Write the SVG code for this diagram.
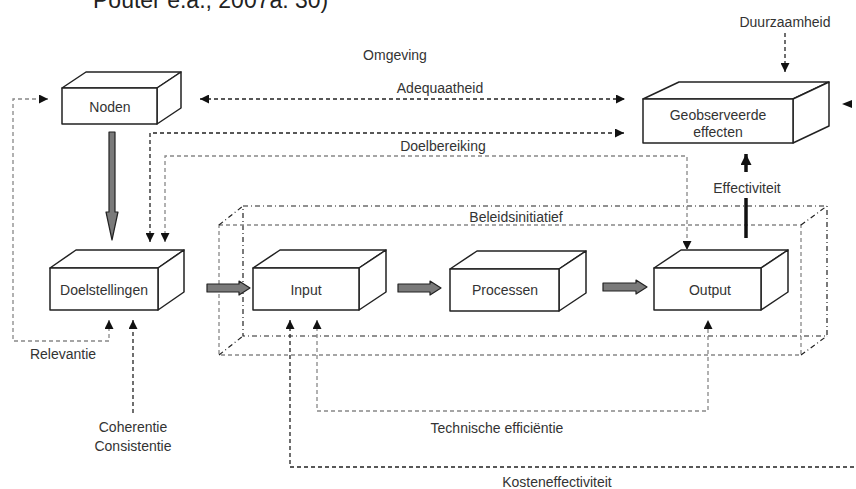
<svg xmlns="http://www.w3.org/2000/svg" width="856" height="489" viewBox="0 0 856 489">
<defs>
<style>
text{font-family:"Liberation Sans",Arial,sans-serif;font-size:14px;fill:#333;}
.c{text-anchor:middle;}
.box path{fill:#fff;stroke:#222;stroke-width:1.5;stroke-linejoin:round;}
.dk{fill:none;stroke:#222;stroke-width:1.3;stroke-dasharray:4 3;}
.lt{fill:none;stroke:#888;stroke-width:1.3;stroke-dasharray:4 3;}
.dd{fill:none;stroke:#222;stroke-width:1.2;stroke-dasharray:5 3 1 3;}
.ga{fill:#7a7a7a;stroke:#222;stroke-width:1.2;stroke-linejoin:round;}
</style>
<marker id="ah" viewBox="0 0 10 10" refX="10" refY="5" markerWidth="9" markerHeight="9" markerUnits="userSpaceOnUse" orient="auto-start-reverse">
<path d="M0,0 L10,5 L0,10 z" fill="#111"/>
</marker>
<marker id="ahb" viewBox="0 0 10 10" refX="10" refY="5" markerWidth="11" markerHeight="11" markerUnits="userSpaceOnUse" orient="auto">
<path d="M0,0 L10,5 L0,10 z" fill="#111"/>
</marker>
</defs>
<rect width="856" height="489" fill="#fff"/>
<text x="93" y="8" style="font-size:23px;fill:#222">Pouter e.a., 2007a: 30)</text>

<!-- Beleidsinitiatief frame -->
<g id="beleidsinitiatief">
<rect x="243" y="206" width="584" height="130" class="dd"/>
<rect x="219" y="225" width="582" height="130" class="lt"/>
<path d="M219,225 L243,206 M801,225 L827,206 M219,355 L243,336 M801,355 L827,336" class="dd"/>
<text x="516" y="222" class="c">Beleidsinitiatief</text>
</g>

<g id="noden" class="box">
<path d="M62,88 L86,72 L181,72 L157,88 Z"/>
<path d="M157,88 L181,72 L181,108 L157,124 Z"/>
<path d="M62,88 H157 V124 H62 Z"/>
<text x="110" y="112" class="c">Noden</text>
</g>

<g id="geobserveerde" class="box">
<path d="M643,99 L679,82 L829,82 L793,99 Z"/>
<path d="M793,99 L829,82 L829,126 L793,143 Z"/>
<path d="M643,99 H793 V143 H643 Z"/>
<text x="718" y="120" class="c">Geobserveerde</text>
<text x="718" y="137" class="c">effecten</text>
</g>

<g id="doelstellingen" class="box">
<path d="M50,268 L76,250 L184,250 L158,268 Z"/>
<path d="M158,268 L184,250 L184,292 L158,310 Z"/>
<path d="M50,268 H158 V310 H50 Z"/>
<text x="104" y="295" class="c">Doelstellingen</text>
</g>

<g id="input" class="box">
<path d="M253,268 L280,250 L386,250 L359,268 Z"/>
<path d="M359,268 L386,250 L386,292 L359,310 Z"/>
<path d="M253,268 H359 V310 H253 Z"/>
<text x="306" y="295" class="c">Input</text>
</g>

<g id="processen" class="box">
<path d="M450,269 L477,251 L586,251 L559,269 Z"/>
<path d="M559,269 L586,251 L586,293 L559,311 Z"/>
<path d="M450,269 H559 V311 H450 Z"/>
<text x="505" y="295" class="c">Processen</text>
</g>

<g id="output" class="box">
<path d="M654,268 L681,250 L788,250 L761,268 Z"/>
<path d="M761,268 L788,250 L788,292 L761,310 Z"/>
<path d="M654,268 H761 V310 H654 Z"/>
<text x="710" y="295" class="c">Output</text>
</g>

<g id="connectors">
<path class="ga" d="M109,132 H115 V212 L118,212 L112,240 L106,212 L109,212 Z"/>
<path class="ga" d="M207,284 H239 V281 L250,288 L239,295 V292 H207 Z"/>
<path class="ga" d="M398,284 H430 V281 L441,288 L430,295 V292 H398 Z"/>
<path class="ga" d="M603,283 H636 V280 L647,287 L636,294 V291 H603 Z"/>

<path class="lt" d="M109,320 V341 H13 V99 H48" marker-start="url(#ah)" marker-end="url(#ah)"/>
<text x="63" y="359" class="c">Relevantie</text>

<path class="dk" d="M133,413 V320" marker-end="url(#ah)"/>
<text x="133" y="432" class="c">Coherentie</text>
<text x="133" y="451" class="c">Consistentie</text>

<path class="dk" d="M200,99 H625" marker-start="url(#ah)" marker-end="url(#ah)"/>
<text x="440" y="93" class="c">Adequaatheid</text>

<path class="dk" d="M150,242 V133 H624" marker-start="url(#ah)" marker-end="url(#ah)"/>

<path class="lt" d="M165,242 V156 H687 V250" marker-start="url(#ah)" marker-end="url(#ah)"/>
<text x="443" y="151" class="c">Doelbereiking</text>

<path d="M746,172 V154" stroke="#111" stroke-width="3.5" fill="none" marker-end="url(#ahb)"/>
<path d="M746,198 V238" stroke="#111" stroke-width="3.5" fill="none"/>
<text x="747" y="193" class="c">Effectiviteit</text>

<path class="dk" d="M785,33 V72" marker-end="url(#ah)"/>
<text x="785" y="27" class="c">Duurzaamheid</text>

<path d="M842,104 L852,100 L852,108 Z" fill="#111"/>

<path class="lt" d="M317,320 V411 H708 V320" marker-start="url(#ah)" marker-end="url(#ah)"/>
<text x="497" y="433" class="c">Technische efficiëntie</text>

<path class="dk" d="M290,320 V467 H856" marker-start="url(#ah)"/>
<text x="557" y="487" class="c">Kosteneffectiviteit</text>

<text x="395" y="60" class="c">Omgeving</text>
</g>
</svg>
